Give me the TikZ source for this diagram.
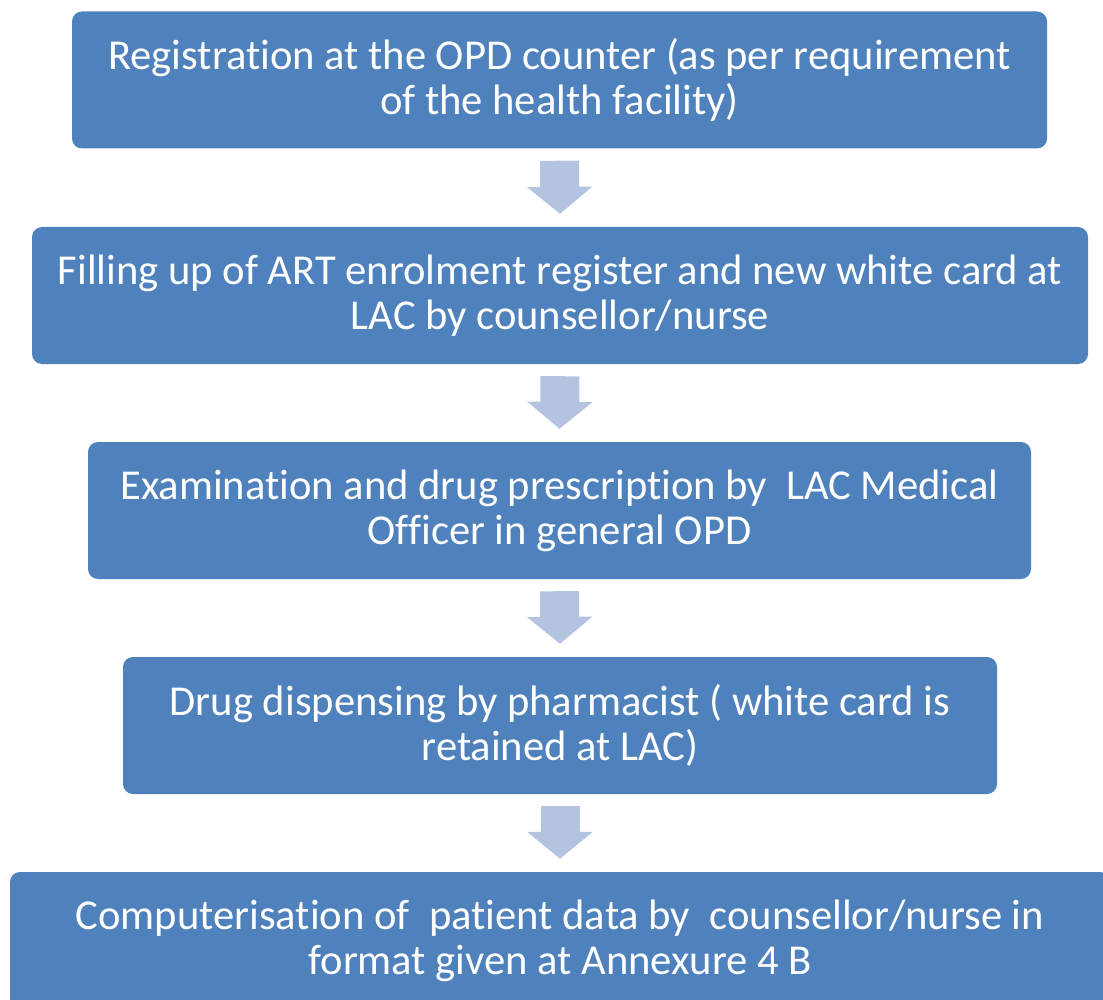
\documentclass[tikz,border=0pt]{standalone}
\usepackage{fontspec}
\setmainfont{Carlito}[Ligatures={NoCommon}]
\usetikzlibrary{arrows.meta,calc}
\definecolor{boxblue}{HTML}{4F81BD}
\definecolor{arrowblue}{HTML}{B3C3E0}
\begin{document}
\begin{tikzpicture}[x=1pt,y=-1pt,
  stepbox/.style={fill=boxblue, rounded corners=10pt, text=white, align=center,
    font=\fontsize{42.6}{45}\selectfont, inner sep=0pt, minimum height=137pt},
  flowarrow/.style={draw=arrowblue, line width=39pt,
    -{Triangle[width=64pt,length=27pt]}}]
\clip (0,0) rectangle (1103,1000);
\node[stepbox, minimum width=975pt] (b1) at (559.5,80)
  {Registration at the OPD counter (as per requirement\\of the health facility)};
\node[stepbox, minimum width=1056pt] (b2) at (560,295.5)
  {Filling up of ART enrolment register and new white card at\\LAC by counsellor/nurse};
\node[stepbox, minimum width=943pt] (b3) at (559.5,510.5)
  {Examination and drug prescription by\ \ LAC Medical\\Officer in general OPD};
\node[stepbox, minimum width=874pt] (b4) at (560,725.5)
  {Drug dispensing by pharmacist ( white card is\\retained at LAC)};
\node[stepbox, minimum width=1100pt] (b5) at (560,940.5)
  {Computerisation of\ \ patient data by\ \ counsellor/nurse in\\format given at Annexure 4 B};
\draw[flowarrow] ($(b1.south)+(0,12)$) -- ($(b2.north)+(0,-13)$);
\draw[flowarrow] ($(b2.south)+(0,12)$) -- ($(b3.north)+(0,-13)$);
\draw[flowarrow] ($(b3.south)+(0,12)$) -- ($(b4.north)+(0,-13)$);
\draw[flowarrow] ($(b4.south)+(0,12)$) -- ($(b5.north)+(0,-13)$);
\end{tikzpicture}
\end{document}
